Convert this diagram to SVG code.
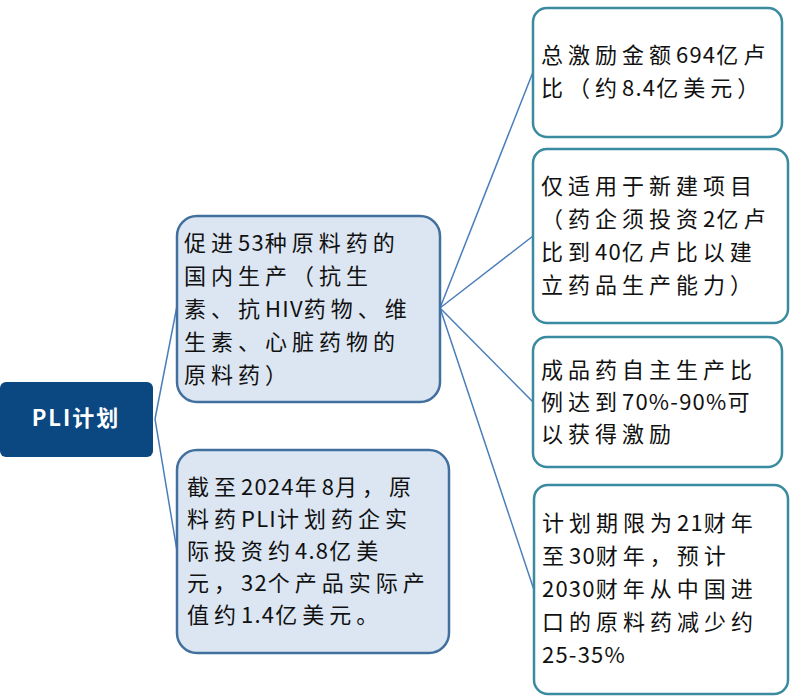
<svg xmlns="http://www.w3.org/2000/svg" width="790" height="696" viewBox="0 0 790 696">
<style>
.t{font-family:"Noto Sans CJK SC","Noto Sans",sans-serif;font-size:22px;fill:#111;letter-spacing:5px}
.n{letter-spacing:1.2px}
.blue{fill:#DCE6F2;stroke:#41709E;stroke-width:2.5}
.wht{fill:#FFFFFF;stroke:#3A8AA0;stroke-width:2.5}
.ln{fill:none;stroke:#4A7EBB;stroke-width:1.5}
</style>
<rect width="790" height="696" fill="#FFFFFF"/>
<g id="connectors">
<path class="ln" d="M155,419 L177,306"/>
<path class="ln" d="M155,419 L177,551"/>
<path class="ln" d="M440,308 L533,72"/>
<path class="ln" d="M440,308 L533,236"/>
<path class="ln" d="M440,308 L533,402"/>
<path class="ln" d="M440,308 L534,590"/>
</g>
<g id="pli">
<rect x="0" y="382" width="153" height="75" rx="6" fill="#0B4780"/>
<text x="76" y="426" text-anchor="middle" style="font-family:'Noto Sans CJK SC','Noto Sans',sans-serif;font-size:22px;font-weight:bold;fill:#FFFFFF;letter-spacing:2px">PLI计划</text>
</g>
<g id="node1">
<rect class="blue" x="177" y="216" width="263" height="186" rx="20"/>
<text class="t">
<tspan x="184" y="251">促进<tspan class="n">53</tspan>种原料药的</tspan>
<tspan x="184" y="284">国内生产（抗生</tspan>
<tspan x="184" y="317">素、抗<tspan class="n">HIV</tspan>药物、维</tspan>
<tspan x="184" y="350">生素、心脏药物的</tspan>
<tspan x="184" y="383">原料药）</tspan>
</text>
</g>
<g id="node2">
<rect class="blue" x="177" y="450" width="272" height="203" rx="20"/>
<text class="t">
<tspan x="187" y="495">截至<tspan class="n">2024</tspan>年<tspan class="n">8</tspan>月，原</tspan>
<tspan x="187" y="527">料药<tspan class="n">PLI</tspan>计划药企实</tspan>
<tspan x="187" y="559">际投资约<tspan class="n">4.8</tspan>亿美</tspan>
<tspan x="187" y="591">元，<tspan class="n">32</tspan>个产品实际产</tspan>
<tspan x="187" y="623">值约<tspan class="n">1.4</tspan>亿美元。</tspan>
</text>
</g>
<g id="nodeA">
<rect class="wht" x="533" y="8" width="249" height="129" rx="14"/>
<text class="t">
<tspan x="541" y="63">总激励金额<tspan class="n">694</tspan>亿卢</tspan>
<tspan x="541" y="96">比（约<tspan class="n">8.4</tspan>亿美元）</tspan>
</text>
</g>
<g id="nodeB">
<rect class="wht" x="533" y="149" width="255" height="174" rx="14"/>
<text class="t">
<tspan x="541" y="194">仅适用于新建项目</tspan>
<tspan x="541" y="227">（药企须投资<tspan class="n">2</tspan>亿卢</tspan>
<tspan x="541" y="260">比到<tspan class="n">40</tspan>亿卢比以建</tspan>
<tspan x="541" y="293">立药品生产能力）</tspan>
</text>
</g>
<g id="nodeC">
<rect class="wht" x="533" y="337" width="249" height="130" rx="14"/>
<text class="t">
<tspan x="541" y="378">成品药自主生产比</tspan>
<tspan x="541" y="410">例达到<tspan class="n">70%-90%</tspan>可</tspan>
<tspan x="541" y="442">以获得激励</tspan>
</text>
</g>
<g id="nodeD">
<rect class="wht" x="534" y="485" width="254" height="209" rx="14"/>
<text class="t">
<tspan x="542" y="531">计划期限为<tspan class="n">21</tspan>财年</tspan>
<tspan x="542" y="564">至<tspan class="n">30</tspan>财年，预计</tspan>
<tspan x="542" y="597"><tspan class="n">2030</tspan>财年从中国进</tspan>
<tspan x="542" y="630">口的原料药减少约</tspan>
<tspan x="542" y="663"><tspan class="n">25-35%</tspan></tspan>
</text>
</g>
</svg>
